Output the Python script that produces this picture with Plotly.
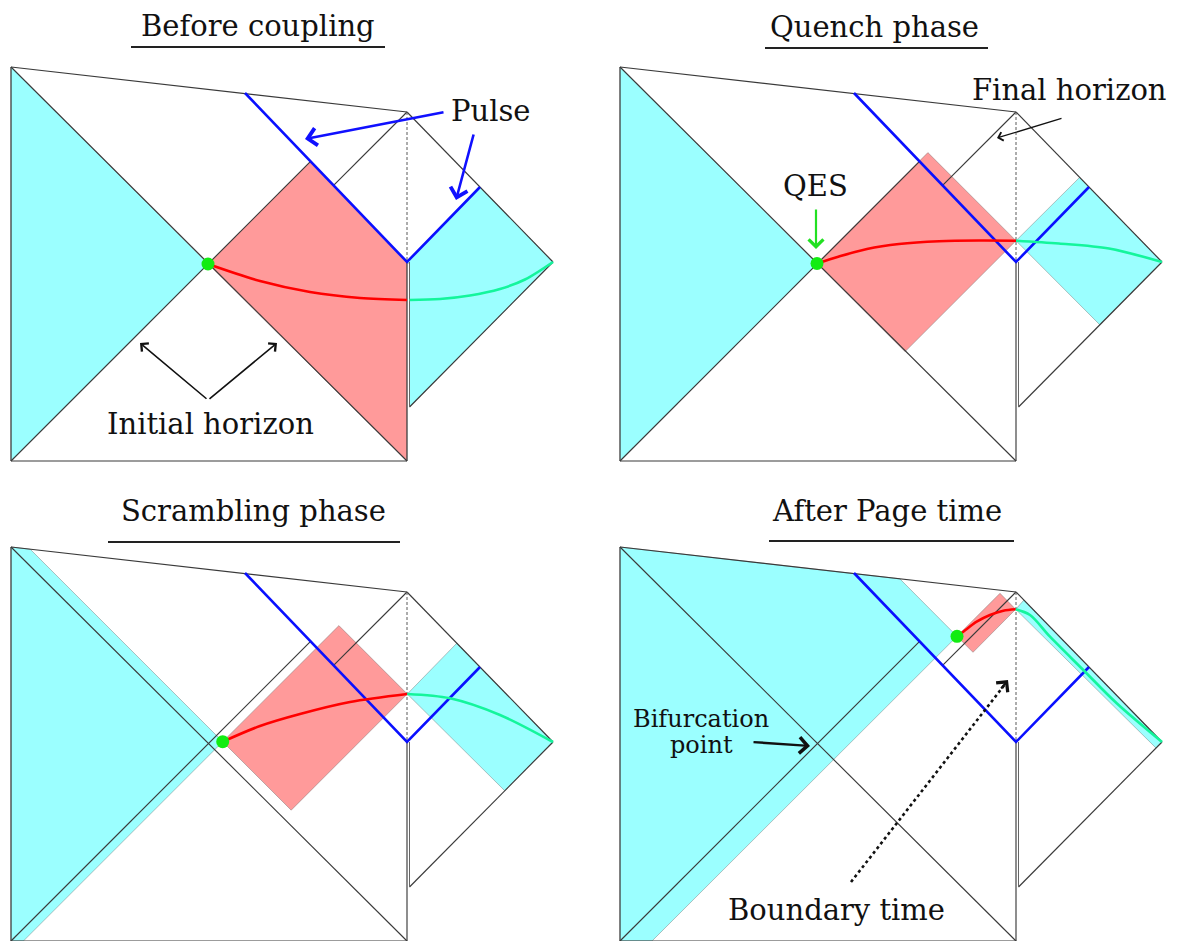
import plotly.graph_objects as go

W, H = 1179, 941
PAGE_MARGIN = 8  # default browser body margin, compensated in the axis ranges

# ---------------- panels ----------------
panel_titles = ["Before coupling", "Quench phase", "Scrambling phase", "After Page time"]
panel_dx = [0, 609, 0, 609]
panel_dy = [0, 0, 480, 480]
title_x = [258, 874, 253, 887]
title_y = [26, 27, 511, 511]
underline_x0 = [131, 765, 108, 769]
underline_x1 = [385, 988, 400, 1014]
underline_y = [47, 48, 542, 541]

# ---------------- common geometry (panel-local frame) ----------------
singularity_x, singularity_y = [11, 407], [67, 112]
left_edge_x, left_edge_y = [11, 11], [67, 461]
bottom_x, bottom_y = [11, 407], [461, 461]
bh_boundary_x, bh_boundary_y = [407, 407], [262, 461]
bath_inner_x, bath_inner_y = [409.5, 409.5], [262, 407]
bath_upper_x, bath_upper_y = [407, 553], [112, 262]
bath_lower_x, bath_lower_y = [553, 409.5], [262, 407]
main_diag_x, main_diag_y = [11, 407], [67, 461]
initial_hor_x, initial_hor_y = [11, 310.6], [461, 161.4]
final_hor_x, final_hor_y = [333.6, 407], [185.4, 112]
dashed_x, dashed_y = [407, 407], [112, 262]
pulse_x, pulse_y = [245, 407, 480], [93, 262, 187]

# ---------------- per-panel data ----------------
qes_x = [208, 208, 222.7, 348]
qes_y = [264, 263.5, 261.7, 156.3]

left_wedge_x = [[11, 208, 11],
                [11, 208, 11],
                [11, 30.2, 222.7, 23.4, 11],
                [11, 290.8, 348, 43, 11]]
left_wedge_y = [[67, 264, 461],
                [67, 264, 461],
                [67, 69.2, 261.7, 461, 461],
                [67, 98.8, 156.3, 461, 461]]

island_x = [[208, 310.6, 407, 407],
            [208, 318.9, 407, 296.1],
            [222.7, 338.9, 407.3, 291.2],
            [348, 391, 406.7, 364]]
island_y = [[264, 161.4, 262, 461],
            [263.5, 152.6, 240.7, 351.6],
            [261.7, 145.6, 214, 330.2],
            [156.3, 113.3, 129.3, 172.3]]

bath_wedge_x = [[407, 480, 553, 409.5, 409.5],
                [407, 470.6, 553, 490.7],
                [407.3, 456.8, 553, 504.7],
                [406.7, 414.9, 553, 547]]
bath_wedge_y = [[262, 187, 262, 407, 264],
                [240.7, 177.4, 262, 324.7],
                [214, 163.2, 262, 310.7],
                [129.3, 120.1, 262, 268]]

red_curve_x = [[208, 260, 310, 360, 407],
               [208, 230, 258, 290, 330, 370, 407],
               [222.7, 260, 300, 350, 407.3],
               [348, 354.3, 367.7, 381, 394.3, 406.7]]
red_curve_y = [[264, 281, 292, 298, 300],
               [263.5, 256.5, 249, 244, 241.2, 240.5, 240.7],
               [261.7, 246, 234, 222, 214],
               [156.3, 151.7, 141.7, 135, 130.7, 129.3]]

green_curve_x = [[409.5, 440, 470, 500, 525, 553],
                 [407, 450, 500, 553],
                 [407.3, 450, 500, 553],
                 [406.7, 421, 441, 474.3, 507.7, 553]]
green_curve_y = [[300, 299, 295.5, 289, 279.5, 262],
                 [240.7, 243.5, 248.5, 262],
                 [214, 218.3, 235, 262],
                 [129.3, 135, 156.7, 190, 223.3, 262]]

# ---------------- labels (absolute frame) ----------------
label_text = ["Pulse", "Initial horizon", "QES", "Final horizon",
              "Bifurcation", "point", "Boundary time"]
label_x = [491, 210, 815, 1069, 701, 701, 836]
label_y = [111, 424, 186, 90, 719, 745, 910]
label_size = [29, 29, 29, 29, 24, 24, 29]

# arrows: tail (ax, ay) -> head (x, y)
arrow_tail_x = [445, 474, 208, 208, 816, 1063, 752, 1000]
arrow_tail_y = [112, 133, 400, 400, 208, 118, 742, 690]
arrow_head_x = [305, 456, 140, 277, 816, 997, 810, 1008]
arrow_head_y = [139, 200, 343, 343, 249, 138, 746, 680]
arrow_color = ["#1010ff", "#1010ff", "#111111", "#111111", "#22e022", "#111111", "#111111", "#111111"]
arrow_width = [2.6, 2.6, 1.6, 1.6, 2.2, 1.3, 2.4, 2.2]

dotted_x = [851, 1006]
dotted_y = [882, 683]

# ---------------- build ----------------
fig = go.Figure()


def shift(xs, ys, p):
    return [x + panel_dx[p] for x in xs], [y + panel_dy[p] for y in ys]


def add_poly(xs, ys, p, fill):
    X, Y = shift(list(xs) + [xs[0]], list(ys) + [ys[0]], p)
    fig.add_trace(go.Scatter(x=X, y=Y, mode="lines", fill="toself", fillcolor=fill,
                             line=dict(color="rgba(110,110,110,0.55)", width=0.8),
                             hoverinfo="skip", showlegend=False))


def add_line(xs, ys, p, color="#3a3a3a", width=1.15, dash="solid", spline=False):
    X, Y = shift(xs, ys, p)
    line = dict(color=color, width=width, dash=dash)
    if spline:
        line.update(shape="spline", smoothing=0.9)
    fig.add_trace(go.Scatter(x=X, y=Y, mode="lines", line=line,
                             hoverinfo="skip", showlegend=False))


CYAN = "#9bffff"
RED = "#ff9a9a"

for p in range(4):
    add_poly(left_wedge_x[p], left_wedge_y[p], p, CYAN)
    add_poly(bath_wedge_x[p], bath_wedge_y[p], p, CYAN)
    add_poly(island_x[p], island_y[p], p, RED)

    for xs, ys in [(singularity_x, singularity_y), (left_edge_x, left_edge_y),
                   (bottom_x, bottom_y), (bh_boundary_x, bh_boundary_y),
                   (bath_upper_x, bath_upper_y), (bath_lower_x, bath_lower_y),
                   (main_diag_x, main_diag_y), (initial_hor_x, initial_hor_y),
                   (final_hor_x, final_hor_y)]:
        add_line(xs, ys, p)
    add_line(bath_inner_x, bath_inner_y, p, color="#666666", width=1.0)
    add_line(dashed_x, dashed_y, p, color="#5a5a5a", width=1.0, dash="3px,2px")

    add_line(pulse_x, pulse_y, p, color="#0a10ff", width=2.6)
    add_line(red_curve_x[p], red_curve_y[p], p, color="#ff0000", width=2.6, spline=True)
    add_line(green_curve_x[p], green_curve_y[p], p, color="#14f59c", width=2.6, spline=True)

    X, Y = shift([qes_x[p]], [qes_y[p]], p)
    fig.add_trace(go.Scatter(x=X, y=Y, mode="markers",
                             marker=dict(color="#12ec12", size=13, line=dict(width=0)),
                             hoverinfo="skip", showlegend=False))

    # title and underline
    fig.add_trace(go.Scatter(x=[underline_x0[p], underline_x1[p]], y=[underline_y[p], underline_y[p]],
                             mode="lines", line=dict(color="#222222", width=2.2),
                             hoverinfo="skip", showlegend=False))
    fig.add_annotation(x=title_x[p], y=title_y[p], text=panel_titles[p], showarrow=False,
                       xref="x", yref="y", xanchor="center", yanchor="middle",
                       font=dict(family="DejaVu Serif", size=29, color="#111111"))

# dotted boundary-time arrow shaft
fig.add_trace(go.Scatter(x=dotted_x, y=dotted_y, mode="lines",
                         line=dict(color="#111111", width=2.6, dash="dot"),
                         hoverinfo="skip", showlegend=False))

for t, x, y, s in zip(label_text, label_x, label_y, label_size):
    fig.add_annotation(x=x, y=y, text=t, showarrow=False, xref="x", yref="y",
                       xanchor="center", yanchor="middle",
                       font=dict(family="DejaVu Serif", size=s, color="#111111"))

for tx, ty, hx, hy, c, w in zip(arrow_tail_x, arrow_tail_y, arrow_head_x, arrow_head_y,
                                arrow_color, arrow_width):
    fig.add_annotation(x=hx, y=hy, ax=tx, ay=ty, xref="x", yref="y", axref="x", ayref="y",
                       text="", showarrow=True, arrowhead=4, arrowsize=1.3,
                       arrowwidth=w, arrowcolor=c)

fig.update_xaxes(range=[PAGE_MARGIN, W + PAGE_MARGIN], visible=False, fixedrange=True)
fig.update_yaxes(range=[H + PAGE_MARGIN, PAGE_MARGIN], visible=False, fixedrange=True)
fig.update_layout(width=W, height=H, margin=dict(l=0, r=0, t=0, b=0),
                  plot_bgcolor="white", paper_bgcolor="white", showlegend=False)

fig.write_html("out.html")
